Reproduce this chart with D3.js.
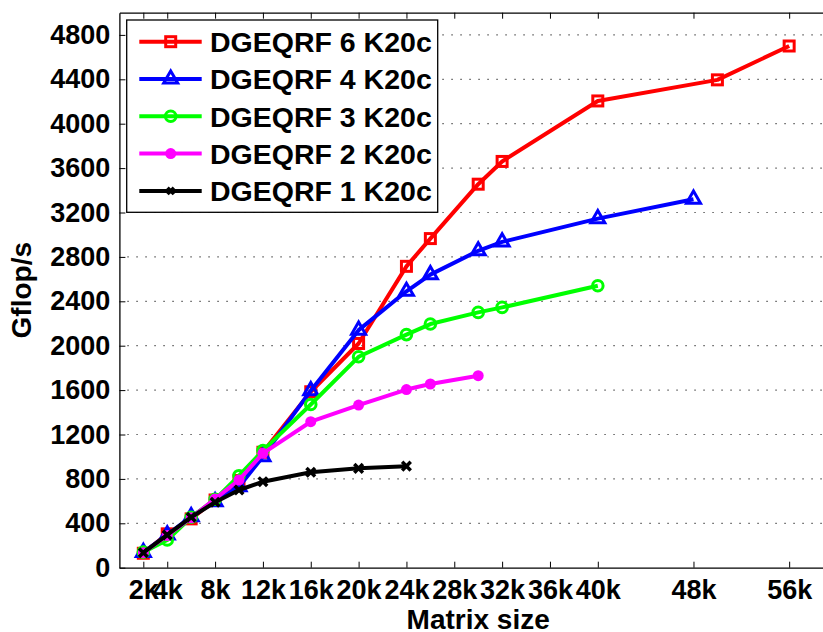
<!DOCTYPE html>
<html>
<head>
<meta charset="utf-8">
<script src="https://cdn.jsdelivr.net/npm/d3@7"></script>
<style>
  html, body { margin: 0; padding: 0; background: #fff; overflow: hidden; }
  svg { display: block; font-family: "Liberation Sans", Arial, Helvetica, sans-serif; font-weight: bold; }
  .axis .domain { stroke: #000; stroke-width: 1.3; }
  .axis .tick line { stroke: #000; stroke-width: 1; }
  .axis text { font-size: 27px; font-weight: bold; fill: #000; font-family: "Liberation Sans", Arial, sans-serif; }
</style>
</head>
<body>
<div id="chart"></div>
<script>
// matrix sizes (in thousands) and Gflop/s per GPU count
const sizes6 = [2, 4, 6, 8, 10, 12, 16, 20, 24, 26, 30, 32, 40, 50, 56];
const gflops6 = [130, 305, 440, 610, 785, 1040, 1585, 2020, 2715, 2965, 3455, 3660, 4205, 4395, 4700];

const sizes4 = [2, 4, 6, 8, 10, 12, 16, 20, 24, 26, 30, 32, 40, 48];
const gflops4 = [138, 295, 460, 595, 730, 1000, 1595, 2140, 2490, 2640, 2855, 2935, 3145, 3320];

const sizes3 = [2, 4, 6, 8, 10, 12, 16, 20, 24, 26, 30, 32, 40];
const gflops3 = [140, 250, 455, 616, 829, 1055, 1470, 1900, 2100, 2195, 2300, 2345, 2540];

const sizes2 = [2, 4, 6, 8, 10, 12, 16, 20, 24, 26, 30];
const gflops2 = [135, 290, 450, 620, 790, 1030, 1315, 1465, 1605, 1655, 1730];

const sizes1 = [2, 4, 6, 8, 10, 12, 16, 20, 24];
const gflops1 = [135, 295, 455, 590, 700, 775, 860, 895, 915];

const seriesNames = ['DGEQRF 6 K20c', 'DGEQRF 4 K20c', 'DGEQRF 3 K20c', 'DGEQRF 2 K20c', 'DGEQRF 1 K20c'];
const xTicks = [2, 4, 8, 12, 16, 20, 24, 28, 32, 36, 40, 48, 56];
const yTicks = d3.range(0, 4801, 400);

const series = [
  { name: seriesNames[0], x: sizes6, y: gflops6, color: '#ff0000', marker: 'square' },
  { name: seriesNames[1], x: sizes4, y: gflops4, color: '#0000ff', marker: 'triangle' },
  { name: seriesNames[2], x: sizes3, y: gflops3, color: '#00ff00', marker: 'circle' },
  { name: seriesNames[3], x: sizes2, y: gflops2, color: '#ff00ff', marker: 'dot' },
  { name: seriesNames[4], x: sizes1, y: gflops1, color: '#000000', marker: 'cross' }
];

const W = 823, H = 632;
const margin = { top: 12.7, left: 119.4, bottom: 64.3 };

const x = d3.scaleLinear().domain([0, 60]).range([margin.left, 837]);
const y = d3.scaleLinear().domain([0, 5000]).range([H - margin.bottom, margin.top]);

const svg = d3.select('#chart')
  .append('svg')
  .attr('width', W)
  .attr('height', H);

// dotted y grid
svg.append('g')
  .selectAll('line')
  .data(yTicks.slice(1))
  .enter().append('line')
  .attr('x1', x(0) + 8)
  .attr('x2', x(60))
  .attr('y1', d => y(d))
  .attr('y2', d => y(d))
  .attr('stroke', '#444')
  .attr('stroke-width', 1.2)
  .attr('stroke-dasharray', '1.3,7.7');

// axes (MATLAB-style inward ticks, boxed)
svg.append('g')
  .attr('class', 'x axis')
  .attr('transform', `translate(0,${y(0)})`)
  .call(d3.axisBottom(x).tickValues(xTicks).tickFormat(d => d + 'k')
    .tickSizeInner(-6).tickSizeOuter(0).tickPadding(12));

svg.append('g')
  .attr('class', 'x axis top')
  .attr('transform', `translate(0,${y(5000)})`)
  .call(d3.axisTop(x).tickValues(xTicks).tickFormat('')
    .tickSizeInner(-6).tickSizeOuter(0));

svg.append('g')
  .attr('class', 'y axis')
  .attr('transform', `translate(${x(0)},0)`)
  .call(d3.axisLeft(y).tickValues(yTicks).tickFormat(d3.format('d'))
    .tickSizeInner(-6).tickSizeOuter(0).tickPadding(9));

// marker shapes
function drawMarker(g, type, color, s) {
  s = s || 1;
  if (type === 'square') {
    g.append('rect')
      .attr('x', -5 * s).attr('y', -5 * s)
      .attr('width', 10 * s).attr('height', 10 * s)
      .attr('fill', 'none').attr('stroke', color).attr('stroke-width', 3);
  } else if (type === 'triangle') {
    g.append('path')
      .attr('d', d3.symbol(d3.symbolTriangle, 85 * s * s)())
      .attr('fill', 'none').attr('stroke', color).attr('stroke-width', 3)
      .attr('stroke-linejoin', 'miter');
  } else if (type === 'circle') {
    g.append('circle')
      .attr('r', 5.3 * s)
      .attr('fill', 'none').attr('stroke', color).attr('stroke-width', 3);
  } else if (type === 'dot') {
    g.append('circle')
      .attr('r', 5.5 * s)
      .attr('fill', color);
  } else if (type === 'cross') {
    const r = 4.3 * s;
    g.append('path')
      .attr('d', `M${-r},${-r}L${r},${r}M${r},${-r}L${-r},${r}`)
      .attr('stroke', color).attr('stroke-width', 3.5).attr('fill', 'none');
  }
}

const line = d3.line()
  .x(d => x(d[0]))
  .y(d => y(d[1]));

series.forEach(s => {
  const pts = s.x.map((v, i) => [v, s.y[i]]);
  const g = svg.append('g').attr('class', 'series');
  g.append('path')
    .datum(pts)
    .attr('d', line)
    .attr('fill', 'none')
    .attr('stroke', s.color)
    .attr('stroke-width', 4)
    .attr('stroke-linejoin', 'round');
  g.selectAll('.mk')
    .data(pts)
    .enter().append('g')
    .attr('class', 'mk')
    .attr('transform', d => `translate(${x(d[0])},${y(d[1])})`)
    .each(function () { drawMarker(d3.select(this), s.marker, s.color); });
});

// legend
const legend = svg.append('g').attr('class', 'legend');
legend.append('rect')
  .attr('x', 126.7).attr('y', 20)
  .attr('width', 311).attr('height', 192.3)
  .attr('fill', '#fff').attr('stroke', '#000').attr('stroke-width', 1.3);

series.forEach((s, i) => {
  const ly = 41.7 + i * 37.3;
  const row = legend.append('g');
  row.append('line')
    .attr('x1', 139.3).attr('x2', 201.7)
    .attr('y1', ly).attr('y2', ly)
    .attr('stroke', s.color).attr('stroke-width', 4);
  const m = row.append('g').attr('transform', `translate(170.7,${ly})`);
  drawMarker(m, s.marker, s.color, s.marker === 'cross' ? 0.75 : 1);
  row.append('text')
    .attr('x', 210)
    .attr('y', ly)
    .attr('dy', '0.36em')
    .style('font-size', '28.5px')
    .text(s.name);
});

// axis titles
svg.append('text')
  .attr('x', (x(0) + x(60)) / 2)
  .attr('y', 628.5)
  .attr('text-anchor', 'middle')
  .style('font-size', '28px')
  .text('Matrix size');

svg.append('text')
  .attr('transform', `translate(31,${(y(0) + y(5000)) / 2}) rotate(-90)`)
  .attr('text-anchor', 'middle')
  .style('font-size', '28px')
  .text('Gflop/s');
</script>
</body>
</html>
